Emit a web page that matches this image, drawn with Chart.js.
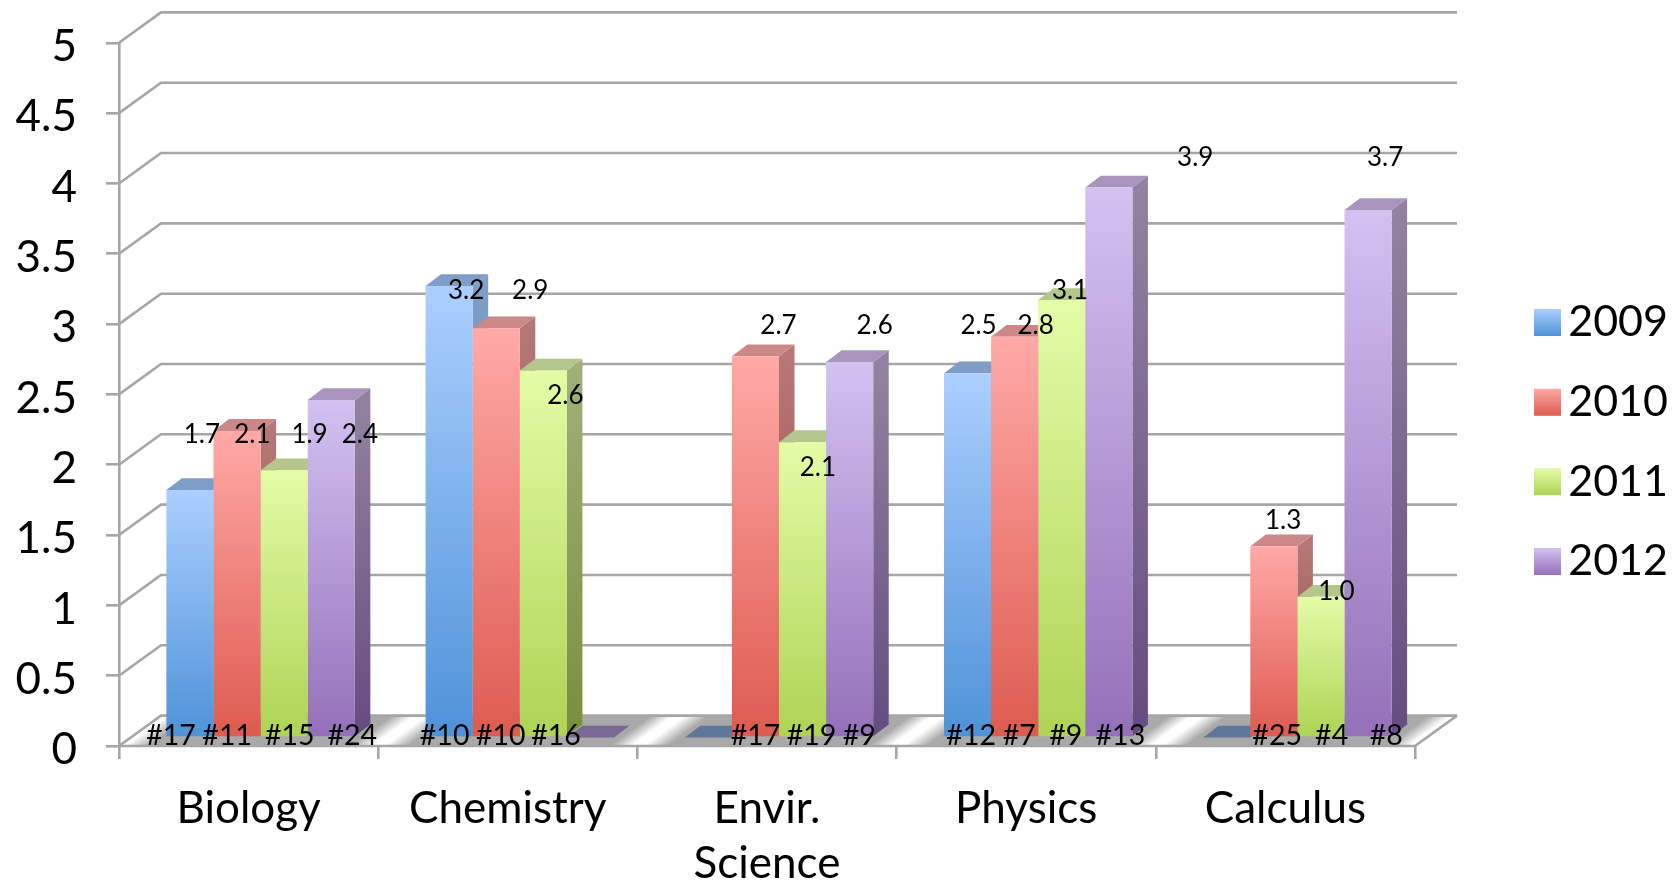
<!DOCTYPE html>
<html><head><meta charset="utf-8">
<style>html,body{margin:0;padding:0;background:#fff}canvas{display:block}</style>
<script src="https://cdn.jsdelivr.net/npm/chart.js@4/dist/chart.umd.min.js"></script>
</head><body><canvas id="c" width="1679" height="882"></canvas>
<script>
const categories = ['Biology','Chemistry',['Envir.','Science'],'Physics','Calculus'];
const years = ['2009','2010','2011','2012'];
const values2009 = [1.76,3.21,0,2.59,0];
const values2010 = [2.18,2.91,2.71,2.85,1.36];
const values2011 = [1.90,2.61,2.10,3.11,1.00];
const values2012 = [2.40,0,2.67,3.91,3.75];
const scoreLabels2009 = ['1.7','3.2',null,'2.5',null];
const scoreLabels2010 = ['2.1','2.9','2.7','2.8','1.3'];
const scoreLabels2011 = ['1.9','2.6','2.1','3.1','1.0'];
const scoreLabels2012 = ['2.4',null,'2.6','3.9','3.7'];
const rankLabels2009 = ['#17','#10',null,'#12',null];
const rankLabels2010 = ['#11','#10','#17','#7','#25'];
const rankLabels2011 = ['#15','#16','#19','#9','#4'];
const rankLabels2012 = ['#24',null,'#9','#13','#8'];

// styling and hand-placed label nudges (px, relative to the bar)
const scoreNudge = [
  [[12,-55],[17,4.5],null,[11,-47.8],null],
  [[15.3,3.9],[34,-37.7],[23,-31],[21,-10.7],[9.3,-25.3]],
  [[25.4,-35.5],[22,24.8],[15.3,25.3],[8.3,-9.6],[15.5,-5]],
  [[28.6,34.9],null,[25,-36.6],[86.4,-30.4],[17,-52.3]]
];
const rankNudge = [
  [-19,-4.5,null,3.6,null],
  [-9.9,4.6,0,4.6,3.3],
  [5.6,12.6,8.9,4,10.7],
  [21,null,9.6,11.5,18.2]
];
const frontTop = ['#abcfff','#ffa9a6','#e3fca6','#d3c1f2'];
const frontBot = ['#4e92d8','#dd5b50','#aed354','#9470b8'];
const sideTop  = ['#7f9fc9','#b57876','#9fb078','#93829f'];
const sideBot  = ['#46709c','#97443e','#788f3c','#654c80'];
const capColor = ['#7f9dc6','#cc8886','#b3c68c','#a894bd'];
const flatColor= ['#5f789a','#a06060','#8a9a60','#7a6994'];
const GRID='#a6a6a6', FONT='Lato';
const BAR_DX=12, BAR_DY=-8.5, SIDE_DX=15.5, SIDE_DY=-11.8, WALL_DX=42, WALL_DY=-30.4;
const Y_LABEL_SHIFT=4;

const valueSets=[values2009,values2010,values2011,values2012];
const scoreSets=[scoreLabels2009,scoreLabels2010,scoreLabels2011,scoreLabels2012];
const rankSets=[rankLabels2009,rankLabels2010,rankLabels2011,rankLabels2012];

function vGrad(ctx,y0,y1,a,b){
  if(!isFinite(y0)||!isFinite(y1)) return b;
  const g=ctx.createLinearGradient(0,y0,0,y1);g.addColorStop(0,a);g.addColorStop(1,b);return g;
}
function poly(ctx,pts,fill){ctx.beginPath();pts.forEach((p,i)=>i?ctx.lineTo(p[0],p[1]):ctx.moveTo(p[0],p[1]));ctx.closePath();ctx.fillStyle=fill;ctx.fill();}

const scene3d={
  id:'scene3d',
  beforeLayout(chart){
    const lg=chart.legend;
    if(lg&&!lg._wrapped){const f=lg.fit;lg.fit=function(){f.call(this);this.width=264;};lg._wrapped=true;}
  },
  afterLayout(chart){
    const lg=chart.legend;
    lg.left=1534-lg.options.labels.padding;
    lg.right=1668;
    lg.top=2;lg.bottom=882;
  },
  afterUpdate(chart){
    const lg=chart.legend,ctx=chart.ctx;
    lg.legendItems.forEach((it,i)=>{
      const h=lg.legendHitBoxes[i];
      it.fillStyle=vGrad(ctx,h.top+(h.height-27)/2,h.top+(h.height+27)/2,frontTop[i],frontBot[i]);
    });
    chart.scales.y.getLabelItems(chart.chartArea).forEach(item=>{item.options.translation[1]+=Y_LABEL_SHIFT;});
  },
  beforeDatasetsDraw(chart){
    const {ctx,scales:{x,y},chartArea:a}=chart;
    ctx.save();
    // floor
    const y0=y.getPixelForValue(0), bk=y0+WALL_DY;
    ctx.save();
    ctx.beginPath();ctx.moveTo(a.left,y0);ctx.lineTo(a.left+WALL_DX,bk);ctx.lineTo(a.right+WALL_DX,bk);ctx.lineTo(a.right,y0);ctx.closePath();ctx.clip();
    const k=WALL_DX/WALL_DY;            // skew so the streaks lean along the depth direction
    ctx.transform(1,0,k,1,-k*y0,0);
    const g=ctx.createLinearGradient(a.left-30,0,a.right+30,0), w=a.right-a.left+60;
    const step=(a.right-a.left)/categories.length;
    const st=(px,c)=>{const t=(px-(a.left-30))/w;if(t>=0&&t<=1)g.addColorStop(t,c);};
    for(let i=0;i<=categories.length;i++){
      const e=a.left+i*step;
      st(e-28,'#a9a9a9');st(e-6,'#ffffff');st(e+6,'#ffffff');st(e+30,'#a9a9a9');
    }
    ctx.fillStyle=g;ctx.fillRect(a.left-60,bk-2,w+120,y0-bk+4);
    ctx.restore();
    // walls
    ctx.strokeStyle=GRID;ctx.lineWidth=2.6;
    y.ticks.forEach(t=>{
      const py=y.getPixelForValue(t.value);
      ctx.beginPath();ctx.moveTo(a.left,py);ctx.lineTo(a.left+WALL_DX,py+WALL_DY);ctx.lineTo(a.right+WALL_DX,py+WALL_DY);ctx.stroke();
    });
    ctx.beginPath();ctx.moveTo(a.left,y0);ctx.lineTo(a.right,y0);ctx.lineTo(a.right+WALL_DX,bk);ctx.stroke();
    // bars: shift into the mid-depth plane, draw sides and caps under the fronts
    ctx.translate(BAR_DX,BAR_DY);
    for(let c=0;c<categories.length;c++){
      for(let d=0;d<years.length;d++){
        const b=chart.getDatasetMeta(d).data[c], v=valueSets[d][c];
        const l=b.x-b.width/2, r=b.x+b.width/2, t=b.y, base=b.base;
        if(v>0){
          poly(ctx,[[r,t],[r+SIDE_DX,t+SIDE_DY],[r+SIDE_DX,base+SIDE_DY],[r,base]],vGrad(ctx,t,base,sideTop[d],sideBot[d]));
          poly(ctx,[[l,t],[l+SIDE_DX,t+SIDE_DY],[r+SIDE_DX,t+SIDE_DY],[r,t]],capColor[d]);
        }else{
          poly(ctx,[[l,t],[l+SIDE_DX,t+SIDE_DY],[r+SIDE_DX,t+SIDE_DY],[r,t]],flatColor[d]);
        }
      }
    }
  },
  afterDatasetsDraw(chart){
    const {ctx}=chart;
    ctx.restore();
    ctx.save();
    ctx.fillStyle='#000';ctx.textAlign='center';ctx.textBaseline='middle';
    for(let d=0;d<years.length;d++){
      chart.getDatasetMeta(d).data.forEach((b,c)=>{
        ctx.font='26px '+FONT;
        if(scoreSets[d][c]) ctx.fillText(scoreSets[d][c],b.x+BAR_DX+scoreNudge[d][c][0],b.y+BAR_DY+scoreNudge[d][c][1]);
        ctx.font='28.5px '+FONT;
        if(rankSets[d][c])  ctx.fillText(rankSets[d][c],b.x+BAR_DX+rankNudge[d][c],b.base+BAR_DY);
      });
    }
    ctx.restore();
  }
};

new Chart(document.getElementById('c'),{
  type:'bar',
  data:{labels:categories,datasets:years.map((yr,d)=>({
    label:yr,data:valueSets[d],borderWidth:0,
    categoryPercentage:0.727,barPercentage:1,
    backgroundColor:(cx)=>{
      const ch=cx.chart,s=ch.scales.y;
      if(!s||cx.raw===undefined) return frontBot[d];
      return vGrad(ch.ctx,s.getPixelForValue(cx.raw),s.getPixelForValue(0),frontTop[d],frontBot[d]);
    }
  }))},
  options:{
    responsive:false,animation:false,devicePixelRatio:1,
    layout:{padding:{top:42.8,left:0,right:0,bottom:0}},
    plugins:{
      tooltip:{enabled:false},title:{display:false},
      legend:{position:'right',labels:{boxWidth:27,boxHeight:27,padding:36.6,textAlign:'right',color:'#000',font:{family:FONT,size:43}}}
    },
    scales:{
      x:{
        offset:true,
        grid:{offset:true,display:true,drawOnChartArea:false,color:GRID,lineWidth:2.6,tickLength:13},
        border:{display:false},
        ticks:{color:'#000',maxRotation:0,minRotation:0,padding:22,autoSkip:false,font:{family:FONT,size:44,lineHeight:1.26}},
        afterFit(s){s.height=136;s.paddingLeft=0;s.paddingRight=0;}
      },
      y:{
        min:0,max:5,
        grid:{drawOnChartArea:false,color:GRID,lineWidth:2.6,tickLength:13},
        border:{display:true,color:GRID,width:2.6},
        ticks:{stepSize:0.5,color:'#000',padding:29,font:{family:FONT,size:44},callback:(v)=>String(v)},
        afterFit(s){s.width=119;s.paddingTop=0;s.paddingBottom=0;}
      }
    }
  },
  plugins:[scene3d]
});
</script></body></html>
